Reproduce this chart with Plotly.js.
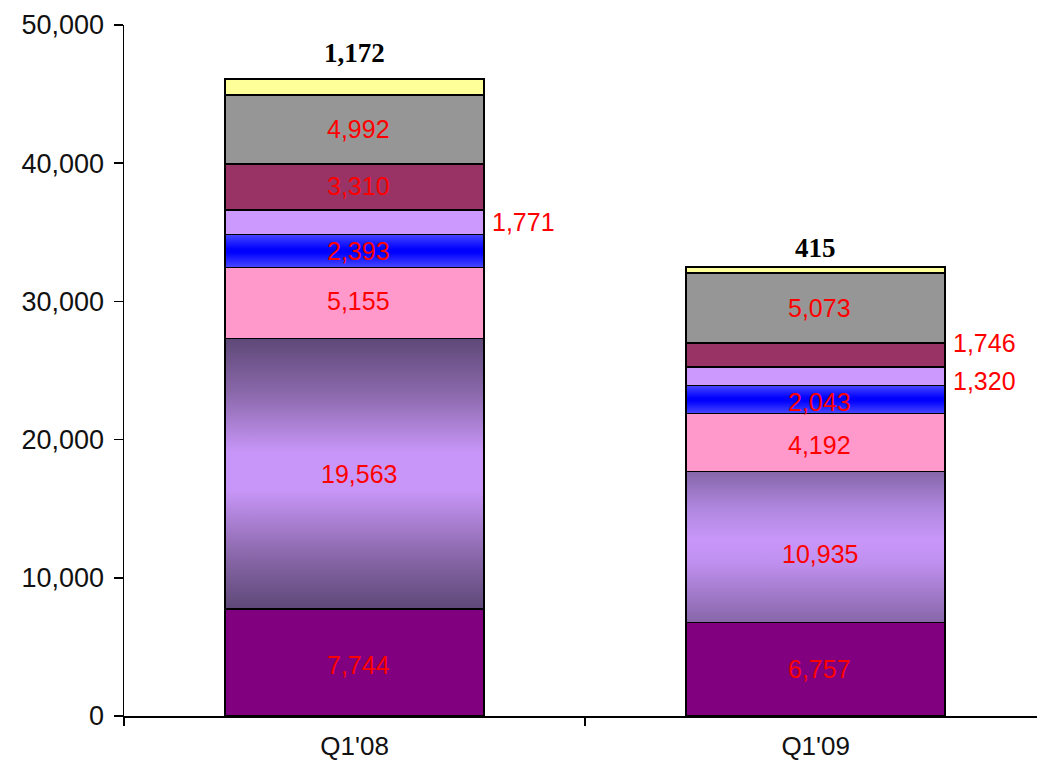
<!DOCTYPE html>
<html>
<head>
<meta charset="utf-8">
<script src="https://cdn.plot.ly/plotly-3.0.1.min.js"></script>
<style>
  html, body { margin: 0; padding: 0; background: #fff; }
  #chart { width: 1037px; height: 768px; }
</style>
</head>
<body>
<div id="chart"></div>
<script>
// ---- data ----
const categories = ["Q1'08", "Q1'09"];
const seg1 = [7744, 6757];     // bottom, dark purple
const seg2 = [19563, 10935];   // purple gradient
const seg3 = [5155, 4192];     // pink
const seg4 = [2393, 2043];     // blue gradient
const seg5 = [1771, 1320];     // light purple
const seg6 = [3310, 1746];     // maroon
const seg7 = [4992, 5073];     // gray
const seg8 = [1172, 415];      // light yellow (top)
const yTicks = [0, 10000, 20000, 30000, 40000, 50000];

const series = [seg1, seg2, seg3, seg4, seg5, seg6, seg7, seg8];
const colors = ['#800080', '#b088e0', '#ff99cc', '#1a1aff', '#cc99ff', '#993366', '#969696', '#ffff99'];
const BARW = 0.562;

const fmt = v => v.toLocaleString('en-US');

const traces = series.map((s, i) => ({
  type: 'bar',
  x: categories,
  y: s,
  width: BARW,
  marker: { color: colors[i], line: { color: '#000', width: 1.5 } },
  hoverinfo: 'none',
  showlegend: false
}));

// label placement: 'in' inside centered, 'out' right of bar, 'top' above bar
const placement = [
  ['in', 'in'], ['in', 'in'], ['in', 'in'], ['in', 'in'],
  ['out', 'out'], ['in', 'out'], ['in', 'in'], ['top', 'top']
];
// small pixel nudges of individual labels (style only)
const nudge = [[-3, 0], [0, -7], [2, -2], [0, -3], [0, -5], [1, 12], [1, 0], [3, -4]];

const annotations = [];
const cum = categories.map(() => 0);
series.forEach((s, i) => {
  s.forEach((v, j) => {
    const base = cum[j];
    const mid = base + v / 2;
    const p = placement[i][j];
    if (p === 'in') {
      annotations.push({
        x: j, y: mid, xref: 'x', yref: 'y', text: fmt(v), showarrow: false,
        xanchor: 'center', yanchor: 'middle', xshift: 4, yshift: nudge[i][j],
        font: { family: 'Liberation Sans, Arial, sans-serif', size: 25, color: '#ff0000' }
      });
    } else if (p === 'out') {
      annotations.push({
        x: j + BARW / 2, y: mid, xref: 'x', yref: 'y', text: fmt(v), showarrow: false,
        xanchor: 'left', yanchor: 'middle', xshift: 6, yshift: nudge[i][j],
        font: { family: 'Liberation Sans, Arial, sans-serif', size: 25, color: '#ff0000' }
      });
    } else {
      annotations.push({
        x: j, y: base + v, xref: 'x', yref: 'y', text: '<b>' + fmt(v) + '</b>', showarrow: false,
        xanchor: 'center', yanchor: 'bottom', yshift: 6 + nudge[i][j],
        font: { family: 'Liberation Serif, Times New Roman, serif', size: 27, color: '#000' }
      });
    }
    cum[j] += v;
  });
});

const layout = {
  width: 1037, height: 768,
  margin: { l: 124, r: 0, t: 25, b: 52 },
  paper_bgcolor: '#fff', plot_bgcolor: '#fff',
  barmode: 'stack',
  font: { family: 'Liberation Sans, Arial, sans-serif', color: '#000' },
  xaxis: {
    type: 'category', range: [-0.5, 1.48],
    showline: true, linecolor: '#000', linewidth: 1.5,
    ticks: 'outside', tickson: 'boundaries', ticklen: 8, tickwidth: 1.5, tickcolor: '#000',
    showgrid: false, zeroline: false, ticklabelstandoff: 6,
    tickfont: { size: 26, color: '#111' }
  },
  yaxis: {
    range: [0, 50000], tickvals: yTicks, ticktext: yTicks.map(fmt),
    showline: true, linecolor: '#000', linewidth: 1.5,
    ticks: 'outside', ticklen: 9, tickwidth: 1.5, tickcolor: '#000',
    showgrid: false, zeroline: false, ticklabelstandoff: 4,
    tickfont: { size: 27, color: '#111' }
  },
  annotations: annotations
};

Plotly.newPlot('chart', traces, layout, { staticPlot: true }).then(applyGradients);

function applyGradients() {
  const svg = document.querySelector('#chart .main-svg');
  const NS = 'http://www.w3.org/2000/svg';
  let defs = svg.querySelector('defs');
  if (!defs) { defs = document.createElementNS(NS, 'defs'); svg.insertBefore(defs, svg.firstChild); }
  const grads = {
    g_purple0: [[0, '#5e4878'], [0.2, '#8a68aa'], [0.42, '#c896f8'], [0.56, '#c896f8'], [0.8, '#8a68aa'], [1, '#5e4878']],
    g_purple1: [[0, '#8666a8'], [0.25, '#b088e0'], [0.45, '#c896f8'], [0.6, '#c090f0'], [1, '#8666a8']],
    g_blue: [[0, '#4848ff'], [0.45, '#0000ff'], [0.55, '#0000ff'], [1, '#4848ff']]
  };
  Object.keys(grads).forEach(id => {
    const lg = document.createElementNS(NS, 'linearGradient');
    lg.setAttribute('id', id);
    lg.setAttribute('x1', '0'); lg.setAttribute('y1', '0');
    lg.setAttribute('x2', '0'); lg.setAttribute('y2', '1');
    grads[id].forEach(([o, c]) => {
      const st = document.createElementNS(NS, 'stop');
      st.setAttribute('offset', o);
      st.setAttribute('stop-color', c);
      lg.appendChild(st);
    });
    defs.appendChild(lg);
  });
  const traceGroups = document.querySelectorAll('#chart .barlayer .trace');
  const setFill = (ti, pi, id) => {
    const g = traceGroups[ti];
    if (!g) return;
    const paths = g.querySelectorAll('.point path');
    if (paths[pi]) paths[pi].style.fill = 'url(#' + id + ')';
  };
  setFill(1, 0, 'g_purple0');
  setFill(1, 1, 'g_purple1');
  setFill(3, 0, 'g_blue');
  setFill(3, 1, 'g_blue');
}
</script>
</body>
</html>
